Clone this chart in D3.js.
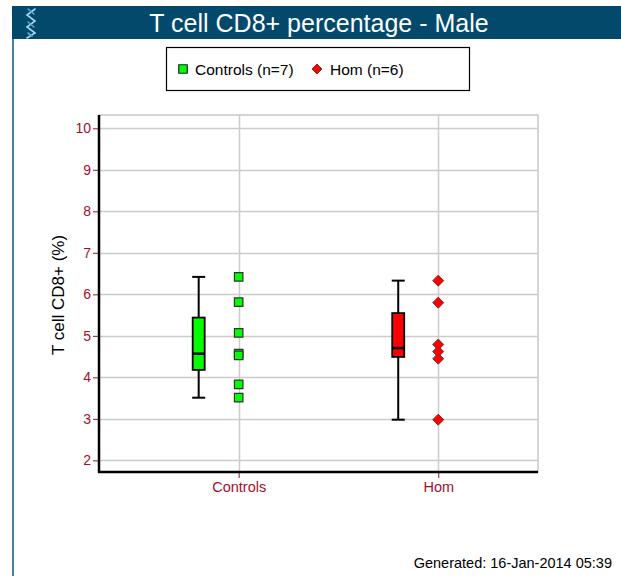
<!DOCTYPE html>
<html>
<head>
<meta charset="utf-8">
<script src="https://cdn.jsdelivr.net/npm/d3@7"></script>
<style>
  html, body { margin: 0; padding: 0; background: #fff; }
  svg { display: block; font-family: "Liberation Sans", Arial, sans-serif; }
</style>
</head>
<body>
<svg id="chart" width="621" height="576"></svg>
<script>
// Groups and per-animal measurements (T cell CD8+ %, male)
const groups = ["Controls", "Hom"];
const groupLabels = ["Controls (n=7)", "Hom (n=6)"];
const controlsValues = [6.42, 5.81, 5.07, 4.57, 4.53, 3.83, 3.51];
const homValues = [6.33, 5.80, 4.79, 4.62, 4.45, 2.98];
const yTicks = [2, 3, 4, 5, 6, 7, 8, 9, 10];
const titleText = "T cell CD8+ percentage - Male";
const yLabel = "T cell CD8+ (%)";
const footerText = "Generated: 16-Jan-2014 05:39";

const fills = ["#00ff00", "#ff0000"];
const tickColor = "#a0102e";

// Square-ish diamond marker (rotated square)
const diamondPath = r => `M0,${-r}L${r},0L0,${r}L${-r},0Z`;

const svg = d3.select("#chart");

// Header band and page frame line
svg.append("rect").attr("x", 12).attr("y", 6).attr("width", 609).attr("height", 33).attr("fill", "#02496b");
svg.append("rect").attr("x", 12).attr("y", 39).attr("width", 2).attr("height", 537).attr("fill", "#4f7f9c");

// Small helix emblem in the header
const helix = svg.append("g").attr("fill", "none").attr("stroke-width", 1.6).attr("stroke-linecap", "round");
helix.append("path").attr("stroke", "#a9d6ef")
  .attr("d", "M35,9 L27,15 L35,21 L27,27 L35,33 L27,38");
helix.append("path").attr("stroke", "#5fa9d3")
  .attr("d", "M28,9 L34,14 M28,22 L34,27 M28,33 L32,36");

svg.append("text").attr("x", 319).attr("y", 32).attr("text-anchor", "middle")
  .attr("fill", "#fff").attr("font-size", 25).text(titleText);

// Plot frame
const plotLeft = 99, plotRight = 538, plotTop = 115, plotBottom = 472;
const x = d3.scaleLinear().domain([-0.7, 1.5]).range([plotLeft, plotRight]);
const y = d3.scaleLinear().domain([1.72, 10.32]).range([plotBottom, plotTop]);

// Light border on top/right
svg.append("rect").attr("x", plotLeft).attr("y", plotTop)
  .attr("width", plotRight - plotLeft).attr("height", plotBottom - plotTop)
  .attr("fill", "none").attr("stroke", "#c8c8c8").attr("stroke-width", 1.5);

// Horizontal grid
svg.append("g").selectAll("line").data(yTicks).join("line")
  .attr("x1", plotLeft).attr("x2", plotRight)
  .attr("y1", d => Math.round(y(d)) + 0.5).attr("y2", d => Math.round(y(d)) + 0.5)
  .attr("stroke", "#cccccc").attr("stroke-width", 1.5);

// Vertical grid at group positions
svg.append("g").selectAll("line").data(groups).join("line")
  .attr("x1", (d, i) => Math.round(x(i)) + 0.5).attr("x2", (d, i) => Math.round(x(i)) + 0.5)
  .attr("y1", plotTop).attr("y2", plotBottom)
  .attr("stroke", "#cccccc").attr("stroke-width", 1.5);

// Y axis
const yAxis = svg.append("g").attr("transform", `translate(${plotLeft},0)`)
  .call(d3.axisLeft(y).tickValues(yTicks).tickSize(6).tickPadding(2).tickFormat(d3.format("d")));
yAxis.select(".domain").remove();
yAxis.selectAll(".tick line").attr("stroke", tickColor);
yAxis.selectAll(".tick text").attr("fill", tickColor).attr("font-size", 14)
  .attr("font-family", "Liberation Sans, Arial, sans-serif");

// X axis
const xAxis = svg.append("g").attr("transform", `translate(0,${plotBottom})`)
  .call(d3.axisBottom(x).tickValues([0, 1]).tickSize(6).tickPadding(4).tickFormat(i => groups[i]));
xAxis.select(".domain").remove();
xAxis.selectAll(".tick line").attr("stroke", tickColor);
xAxis.selectAll(".tick text").attr("fill", tickColor).attr("font-size", 14.5)
  .attr("font-family", "Liberation Sans, Arial, sans-serif");

// Main axis lines
svg.append("line").attr("x1", plotLeft).attr("x2", plotLeft).attr("y1", plotTop).attr("y2", plotBottom + 1)
  .attr("stroke", "#000").attr("stroke-width", 2.5);
svg.append("line").attr("x1", plotLeft - 1).attr("x2", plotRight).attr("y1", plotBottom).attr("y2", plotBottom)
  .attr("stroke", "#000").attr("stroke-width", 2.5);

// Axis title
svg.append("text").attr("transform", "translate(64,295) rotate(-90)")
  .attr("text-anchor", "middle").attr("font-size", 17).attr("fill", "#000").text(yLabel);

// Box plots (min/max whiskers, quartile box, median)
const datasets = [controlsValues, homValues];
const boxOffset = -40, boxW = 12, capW = 13;
datasets.forEach((vals, i) => {
  const s = vals.slice().sort(d3.ascending);
  const q1 = d3.quantile(s, 0.25), med = d3.quantile(s, 0.5), q3 = d3.quantile(s, 0.75);
  const lo = d3.min(s), hi = d3.max(s);
  const cx = x(i) + boxOffset;
  const g = svg.append("g").attr("stroke", "#000").attr("stroke-width", 2);
  g.append("line").attr("x1", cx).attr("x2", cx).attr("y1", y(hi)).attr("y2", y(lo));
  g.append("line").attr("x1", cx - capW / 2).attr("x2", cx + capW / 2).attr("y1", y(hi)).attr("y2", y(hi));
  g.append("line").attr("x1", cx - capW / 2).attr("x2", cx + capW / 2).attr("y1", y(lo)).attr("y2", y(lo));
  g.append("rect").attr("x", cx - boxW / 2).attr("y", y(q3)).attr("width", boxW).attr("height", y(q1) - y(q3))
    .attr("fill", fills[i]).attr("stroke-width", 1.8);
  g.append("line").attr("x1", cx - boxW / 2).attr("x2", cx + boxW / 2).attr("y1", y(med)).attr("y2", y(med))
    .attr("stroke-width", 2.5);
});

// Individual points
const sq = d3.symbol().type(d3.symbolSquare).size(72);
svg.append("g").selectAll("path").data(controlsValues).join("path")
  .attr("d", sq).attr("transform", d => `translate(${x(0)},${y(d)})`)
  .attr("fill", fills[0]).attr("stroke", "#333").attr("stroke-width", 1.2);
svg.append("g").selectAll("path").data(homValues).join("path")
  .attr("d", diamondPath(5.5)).attr("transform", d => `translate(${x(1)},${y(d)})`)
  .attr("fill", fills[1]).attr("stroke", "#7a3030").attr("stroke-width", 1);

// Legend
const lg = svg.append("g");
lg.append("rect").attr("x", 166.5).attr("y", 47.5).attr("width", 303).attr("height", 43)
  .attr("fill", "#fff").attr("stroke", "#000").attr("stroke-width", 1.2);
lg.append("path").attr("d", d3.symbol().type(d3.symbolSquare).size(72))
  .attr("transform", "translate(183,69)").attr("fill", fills[0]).attr("stroke", "#222").attr("stroke-width", 1.2);
lg.append("text").attr("x", 195).attr("y", 75).attr("font-size", 15.5).text(groupLabels[0]);
lg.append("path").attr("d", diamondPath(5))
  .attr("transform", "translate(317,69)").attr("fill", fills[1]).attr("stroke", "#7a3030").attr("stroke-width", 1);
lg.append("text").attr("x", 330).attr("y", 75).attr("font-size", 15.5).text(groupLabels[1]);

// Footer
svg.append("text").attr("x", 612).attr("y", 568).attr("text-anchor", "end")
  .attr("font-size", 14.5).attr("fill", "#000").text(footerText);
</script>
</body>
</html>
